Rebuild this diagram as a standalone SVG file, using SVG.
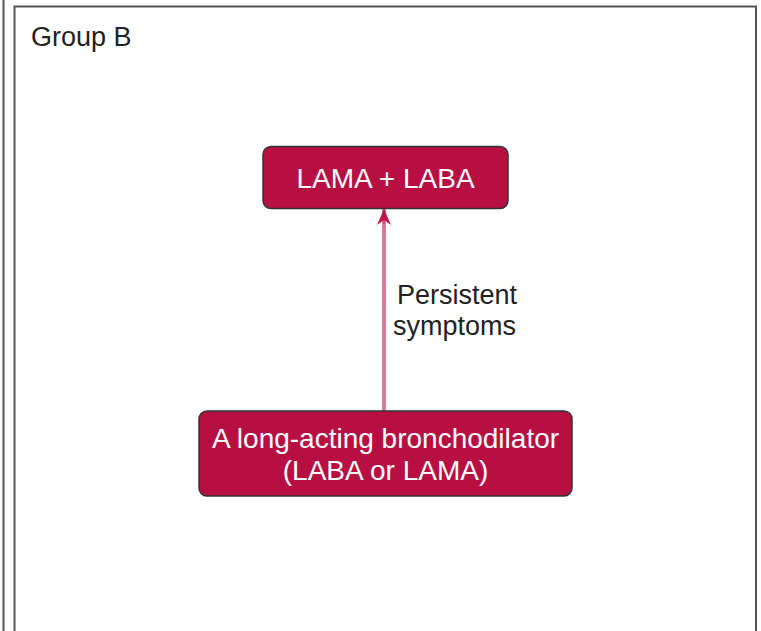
<svg xmlns="http://www.w3.org/2000/svg" width="761" height="631" viewBox="0 0 761 631">
<style>
.frame{fill:none;stroke:#555;stroke-width:2}
.node rect{fill:#B80F43;stroke:#333;stroke-width:1.5}
.node text{fill:#fff;font-family:"Liberation Sans",Arial,sans-serif;font-size:28px;text-anchor:middle}
.lbl{fill:#222;font-family:"Liberation Sans",Arial,sans-serif;font-size:27px}
.conn{stroke:#D2557D;stroke-width:3.5;fill:none}
.conn-core{stroke:#E58AA6;stroke-width:1.2;fill:none}
</style>
<defs>
<marker id="ah" markerWidth="16" markerHeight="14" refX="16" refY="7" orient="auto" markerUnits="userSpaceOnUse" viewBox="0 0 16 14">
<path d="M0,0 L16,7 L0,14 L5,7 Z" fill="#C0164C"/>
</marker>
</defs>
<rect width="761" height="631" fill="#fff"/>
<line x1="3.5" y1="0" x2="3.5" y2="631" class="frame"/>
<path d="M14.5,640 L14.5,6.5 L756,6.5 L756,640" class="frame"/>
<text x="31" y="46" class="lbl">Group B</text>
<g id="connectors">
<line x1="384" y1="411" x2="384" y2="209" class="conn" marker-end="url(#ah)"/>
<line x1="384" y1="411" x2="384" y2="224" class="conn-core"/>
<text x="397" y="304" class="lbl">Persistent</text>
<text x="393" y="335" class="lbl">symptoms</text>
</g>
<g id="node-lama-laba" class="node">
<rect x="263" y="146.5" width="245" height="62" rx="8"/>
<text x="385.5" y="188">LAMA + LABA</text>
</g>
<g id="node-long-acting" class="node">
<rect x="199" y="411" width="373" height="85" rx="8"/>
<text x="385.5" y="448">A long-acting bronchodilator</text>
<text x="385.5" y="480">(LABA or LAMA)</text>
</g>
</svg>
